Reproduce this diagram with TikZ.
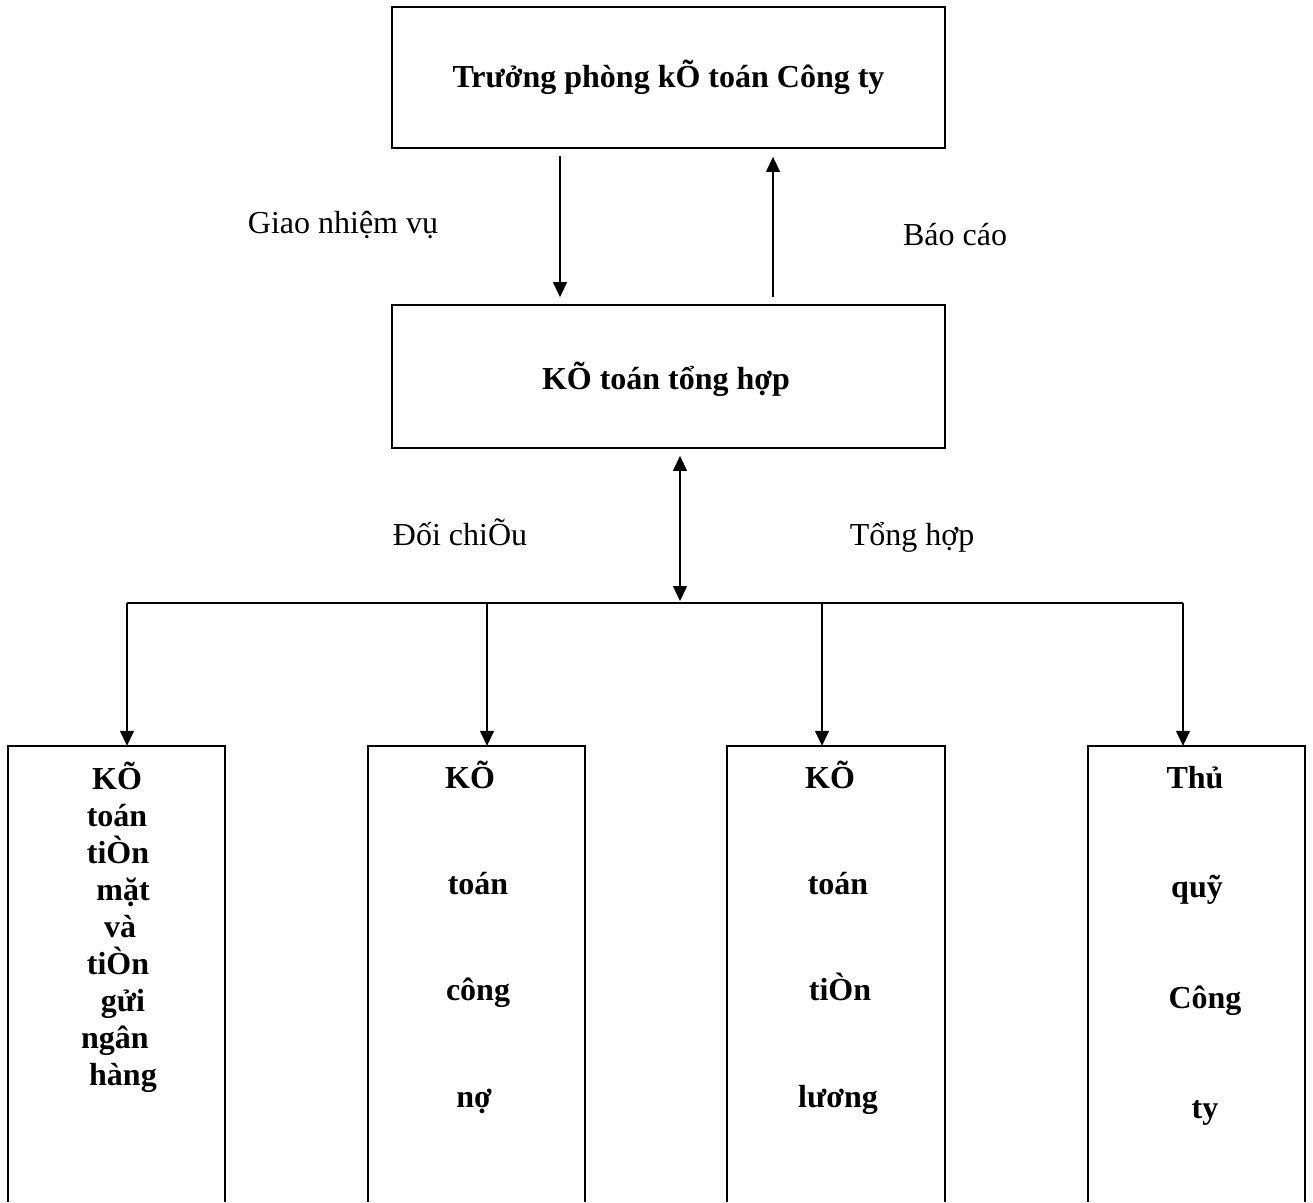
\documentclass[tikz,border=0pt]{standalone}
\usepackage{fontspec}
\setmainfont{Liberation Serif}
\usetikzlibrary{arrows.meta}
\begin{document}
\begin{tikzpicture}[x=1pt,y=-1pt,
  box/.style={draw, line width=1.8pt, minimum width=553pt, inner sep=0pt},
  title/.style={font=\fontsize{32}{37}\selectfont\bfseries, anchor=base, inner sep=0pt},
  lbl/.style={font=\fontsize{32}{37}\selectfont, anchor=base, inner sep=0pt},
  word/.style={font=\fontsize{32}{37}\selectfont\bfseries, anchor=base, inner sep=0pt},
  col/.style={minimum width=217pt, minimum height=456pt, inner sep=0pt},
  arr/.style={line width=1.4pt, -{Triangle[length=15pt,width=14pt]}},
  darr/.style={line width=1.4pt, {Triangle[length=15pt,width=14pt]}-{Triangle[length=15pt,width=14pt]}},
  edgeline/.style={line width=1.8pt},
  busline/.style={line width=1.4pt}
]
\useasboundingbox (0,0) rectangle (1313,1202);

% top and middle boxes
\node[box, minimum height=141pt] (top) at (668.5,77.5) {};
\node[title] (toptext) at (668.5,87) {Trưởng phòng kÕ toán Công ty};
\node[box, minimum height=143pt] (mid) at (668.5,376.5) {};
\node[title] (midtext) at (666,389) {KÕ toán tổng hợp};

% labels
\node[lbl] (giao) at (343,233) {Giao nhiệm vụ};
\node[lbl] (baocao) at (955,245) {Báo cáo};
\node[lbl] (doichieu) at (460,545) {Đối chiÕu};
\node[lbl] (tonghop) at (912,545) {Tổng hợp};

% arrows between top and middle
\draw[arr] ([xshift=-108.5pt,yshift=-7pt]top.south) -- ([xshift=-108.5pt,yshift=7pt]mid.north);
\draw[arr] ([xshift=104.5pt,yshift=7pt]mid.north) -- ([xshift=104.5pt,yshift=-8pt]top.south);

% bus
\coordinate (bus) at (680,601);
\coordinate (d1) at (127,603);
\coordinate (d2) at (487,603);
\coordinate (d3) at (822,603);
\coordinate (d4) at (1183,603);
\draw[darr] ([xshift=11.5pt,yshift=-7pt]mid.south) -- (bus);
\draw[busline] (d1) -- (d4);

% bottom columns (cut off at the lower edge)
\node[col] (b1) at (116.5,974) {};
\node[col] (b2) at (476.5,974) {};
\node[col] (b3) at (836,974) {};
\node[col] (b4) at (1196.5,974) {};
\foreach \b in {b1,b2,b3,b4}{
  \draw[edgeline] (\b.south west) -- (\b.north west) -- (\b.north east) -- (\b.south east);
}
\draw[arr] (d1) -- (d1 |- b1.north);
\draw[arr] (d2) -- (d2 |- b2.north);
\draw[arr] (d3) -- (d3 |- b3.north);
\draw[arr] (d4) -- (d4 |- b4.north);

% texts in columns
\foreach \w/\x [count=\i] in {KÕ/117,toán/117,tiÒn/118,mặt/123,và/120,tiÒn/118,gửi/123,ngân/115,hàng/123}{
  \node[word] (ta\i) at (\x,{789+37*(\i-1)}) {\w};
}
\foreach \w/\x/\y [count=\i] in {KÕ/470/788,toán/478/894,công/478/1000,nợ/474/1107}{
  \node[word] (tb\i) at (\x,\y) {\w};
}
\foreach \w/\x/\y [count=\i] in {KÕ/830/788,toán/838/894,tiÒn/840/1000,lương/838/1107}{
  \node[word] (tc\i) at (\x,\y) {\w};
}
\foreach \w/\x/\y [count=\i] in {Thủ/1195/788,quỹ/1197/897,Công/1205/1008,ty/1205/1118}{
  \node[word] (td\i) at (\x,\y) {\w};
}
\end{tikzpicture}
\end{document}
